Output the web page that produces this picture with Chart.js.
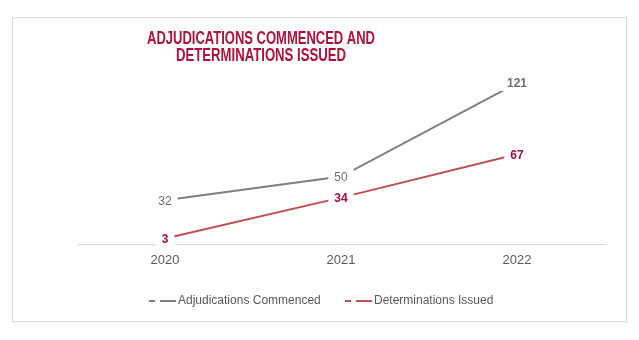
<!DOCTYPE html>
<html>
<head>
<meta charset="utf-8">
<script src="https://cdn.jsdelivr.net/npm/chart.js@4/dist/chart.umd.min.js"></script>
<style>
  html, body { margin: 0; padding: 0; background: #fff; }
  #wrap { width: 639px; height: 340px; position: relative; }
</style>
</head>
<body>
<div id="wrap"><canvas id="adjChart" width="639" height="340"></canvas></div>
<script>
const years = ['2020', '2021', '2022'];
const commenced = [32, 50, 121];
const issued = [3, 34, 67];

const GREY_LINE = '#7f7f7f';
const RED_LINE = '#c0504d';
const RED_TEXT = '#a50d3b';
const TITLE_RED = '#b0103a';

// frame, title and legend drawn straight onto the canvas
const decorations = {
  id: 'decorations',
  beforeDraw(chart) {
    const ctx = chart.ctx;
    ctx.save();
    ctx.fillStyle = '#fff';
    ctx.fillRect(0, 0, chart.width, chart.height);
    ctx.strokeStyle = '#d9d9d9';
    ctx.lineWidth = 1;
    ctx.strokeRect(12.5, 17.5, 614, 304);

    ctx.fillStyle = TITLE_RED;
    ctx.font = 'bold 18px "Liberation Sans", Arial, sans-serif';
    ctx.textAlign = 'center';
    ctx.textBaseline = 'alphabetic';
    ctx.fillText('ADJUDICATIONS COMMENCED AND', 261, 44, 228);
    ctx.fillText('DETERMINATIONS ISSUED', 261, 61, 170);

    // legend
    ctx.font = '12px "Liberation Sans", Arial, sans-serif';
    ctx.textAlign = 'left';
    ctx.textBaseline = 'middle';
    const y = 301;
    chart.data.datasets.forEach((ds, i) => {
      const x0 = i === 0 ? 149 : 345;
      ctx.strokeStyle = ds.borderColor;
      ctx.lineWidth = 2;
      ctx.beginPath();
      ctx.moveTo(x0, y); ctx.lineTo(x0 + 6, y);
      ctx.moveTo(x0 + 11, y); ctx.lineTo(x0 + 27, y);
      ctx.stroke();
      ctx.fillStyle = '#595959';
      ctx.fillText(ds.label, x0 + 29, y);
    });
    ctx.restore();
  },
  afterDatasetsDraw(chart) {
    const ctx = chart.ctx;
    ctx.save();
    ctx.textAlign = 'center';
    ctx.textBaseline = 'middle';
    chart.data.datasets.forEach((ds, i) => {
      const meta = chart.getDatasetMeta(i);
      meta.data.forEach((pt, j) => {
        const txt = String(ds.data[j]);
        const bold = i === 1 || j === ds.data.length - 1;
        ctx.font = (bold ? 'bold ' : '') + '12px "Liberation Sans", Arial, sans-serif';
        const w = ctx.measureText(txt).width + 12;
        ctx.fillStyle = '#fff';
        ctx.fillRect(pt.x - w / 2, pt.y - 8, w, 16);
        ctx.fillStyle = i === 0 ? '#6f6f6f' : RED_TEXT;
        ctx.fillText(txt, pt.x, pt.y + 1);
      });
    });
    ctx.restore();
  }
};

new Chart(document.getElementById('adjChart'), {
  type: 'line',
  data: {
    labels: years,
    datasets: [
      {
        label: 'Adjudications Commenced',
        data: commenced,
        borderColor: GREY_LINE,
        borderWidth: 2,
        pointRadius: 0,
        tension: 0
      },
      {
        label: 'Determinations Issued',
        data: issued,
        borderColor: RED_LINE,
        borderWidth: 2,
        pointRadius: 0,
        tension: 0
      }
    ]
  },
  options: {
    responsive: false,
    animation: false,
    layout: { padding: { left: 77, right: 34, top: 62, bottom: 64 } },
    plugins: {
      legend: { display: false },
      title: { display: false },
      tooltip: { enabled: false }
    },
    scales: {
      x: {
        offset: true,
        grid: { display: false, drawTicks: false },
        border: { color: '#d9d9d9', width: 1 },
        ticks: {
          color: '#595959',
          padding: 8,
          font: { family: '"Liberation Sans", Arial, sans-serif', size: 13 }
        }
      },
      y: {
        display: false,
        min: -1.5,
        max: 137
      }
    }
  },
  plugins: [decorations]
});
</script>
</body>
</html>
